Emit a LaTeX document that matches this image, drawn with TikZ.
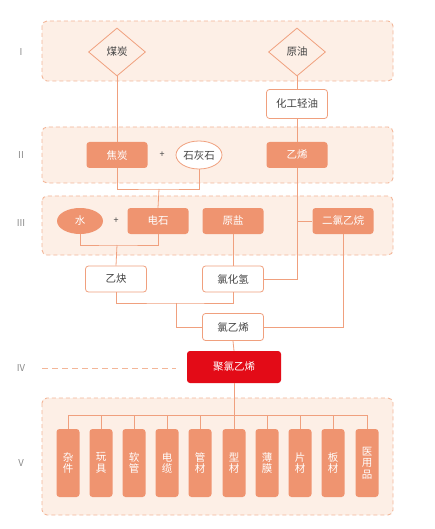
\documentclass[tikz,border=0pt]{standalone}
\usepackage{fontspec}
\newfontfamily\cjk{Noto Sans CJK SC}
\usetikzlibrary{shapes.geometric}
\definecolor{band}{HTML}{FDEFE6}
\definecolor{bandline}{HTML}{F3B698}
\definecolor{ob}{HTML}{EF9470}
\definecolor{ln}{HTML}{F0A07E}
\definecolor{rd}{HTML}{E30B17}
\definecolor{tx}{HTML}{444444}
\definecolor{lbl}{HTML}{8A8A8A}
\tikzset{
  bandbox/.style={fill=band, draw=bandline, line width=0.9pt, dash pattern=on 4pt off 3pt, rounded corners=5pt},
  orangebox/.style={fill=ob, draw=none, rounded corners=3pt, minimum width=61pt, minimum height=26pt, text=white, inner sep=0pt},
  whitebox/.style={fill=white, draw=ln, line width=0.8pt, rounded corners=3pt, minimum width=61pt, minimum height=26pt, text=tx, inner sep=0pt},
  redbox/.style={fill=rd, draw=none, rounded corners=3pt, minimum width=94pt, minimum height=32pt, text=white, inner sep=0pt},
  diam/.style={diamond, draw=ln, line width=0.8pt, minimum width=57pt, minimum height=48pt, inner sep=0pt, text=tx},
  ell/.style={ellipse, minimum width=46pt, minimum height=28pt, inner sep=0pt},
  prod/.style={fill=ob, draw=none, rounded corners=3pt, minimum width=23pt, minimum height=68pt, text=white, inner sep=0pt, align=center, font=\cjk\fontsize{10.5}{11.5}\selectfont},
  conn/.style={draw=ln, line width=0.8pt},
  lvl/.style={text=lbl, font=\cjk\fontsize{9.5}{10}\selectfont},
  plus/.style={text=tx, font=\cjk\fontsize{9}{10}\selectfont}
}
\begin{document}
\begin{tikzpicture}[x=1pt,y=-1pt, font=\cjk\fontsize{10.5}{12}\selectfont]
\useasboundingbox (0,0) rectangle (434,529);
\fill[white] (0,0) rectangle (434,529);
% bands
\draw[bandbox] (42,21) rectangle (393,81);
\draw[bandbox] (42,127) rectangle (393,183);
\draw[bandbox] (42,196) rectangle (393,255);
\draw[bandbox] (42,398) rectangle (393,515);
\draw[bandline, line width=0.9pt, dash pattern=on 6pt off 4pt] (42,368) -- (176,368);
% level labels
\node[lvl] (l1) at (21,52) {I};
\node[lvl] (l2) at (21,155) {II};
\node[lvl] (l3) at (21,223) {III};
\node[lvl] (l4) at (21,368) {IV};
\node[lvl] (l5) at (21,463) {V};
% nodes
\node[diam] (coal) at (117,52) {煤炭};
\node[diam] (oil) at (297,52) {原油};
\node[whitebox, minimum height=29pt] (naph) at (297,104) {化工轻油};
\node[orangebox] (coke) at (117,155) {焦炭};
\node[plus] (p1) at (162,155) {+};
\node[ell, fill=white, draw=ln, line width=0.8pt, text=tx] (lime) at (199,155) {石灰石};
\node[orangebox] (ethy) at (297,155) {乙烯};
\node[ell, fill=ob, minimum height=26pt, text=white] (water) at (80,221) {水};
\node[plus] (p2) at (116,221) {+};
\node[orangebox] (carb) at (158,221) {电石};
\node[orangebox] (salt) at (233,221) {原盐};
\node[orangebox] (edc) at (343,221) {二氯乙烷};
\node[whitebox] (acet) at (116,279) {乙炔};
\node[whitebox] (hcl) at (233,279) {氯化氢};
\node[whitebox, minimum height=27pt] (vcm) at (233,327) {氯乙烯};
\node[redbox] (pvc) at (234,367) {聚氯乙烯};
% products
\foreach \i/\t [count=\k] in {68/{杂\\件},101/{玩\\具},134/{软\\管},167/{电\\缆},200/{管\\材},234/{型\\材},267/{薄\\膜},300/{片\\材},333/{板\\材},367/{医\\用\\品}} {
  \node[prod] (q\k) at (\i,463) {\t};
}
% connectors
\draw[conn] (coal.south) -- (coke.north);
\draw[conn] (oil.south) -- (naph.north);
\draw[conn] (naph.south) -- (ethy.north);
\coordinate (j1) at (159,189);
\draw[conn] (coke.south) |- (j1) -| (lime.south);
\draw[conn] (j1) -- (carb.north);
\draw[conn] (ethy.south) |- (hcl.east);
\draw[conn] (ethy.south |- edc.west) -- (edc.west);
\coordinate (j2) at (117,245);
\draw[conn] (water.south) |- (j2) -| (carb.south);
\draw[conn] (j2) -- (acet.north);
\draw[conn] (salt.south) -- (hcl.north);
\coordinate (j3) at (176,303);
\draw[conn] (acet.south) |- (j3) -| (hcl.south);
\draw[conn] (j3) |- (vcm.west);
\draw[conn] (edc.south) |- (vcm.east);
\draw[conn] (vcm.south) -- (pvc.north);
\coordinate (bus) at (234,415);
\draw[conn] (pvc.south) -- (bus);
\draw[conn] (q1.north |- bus) -- (q10.north |- bus);
\foreach \k in {1,...,10} { \draw[conn] (q\k.north |- bus) -- (q\k.north); }
\end{tikzpicture}
\end{document}
